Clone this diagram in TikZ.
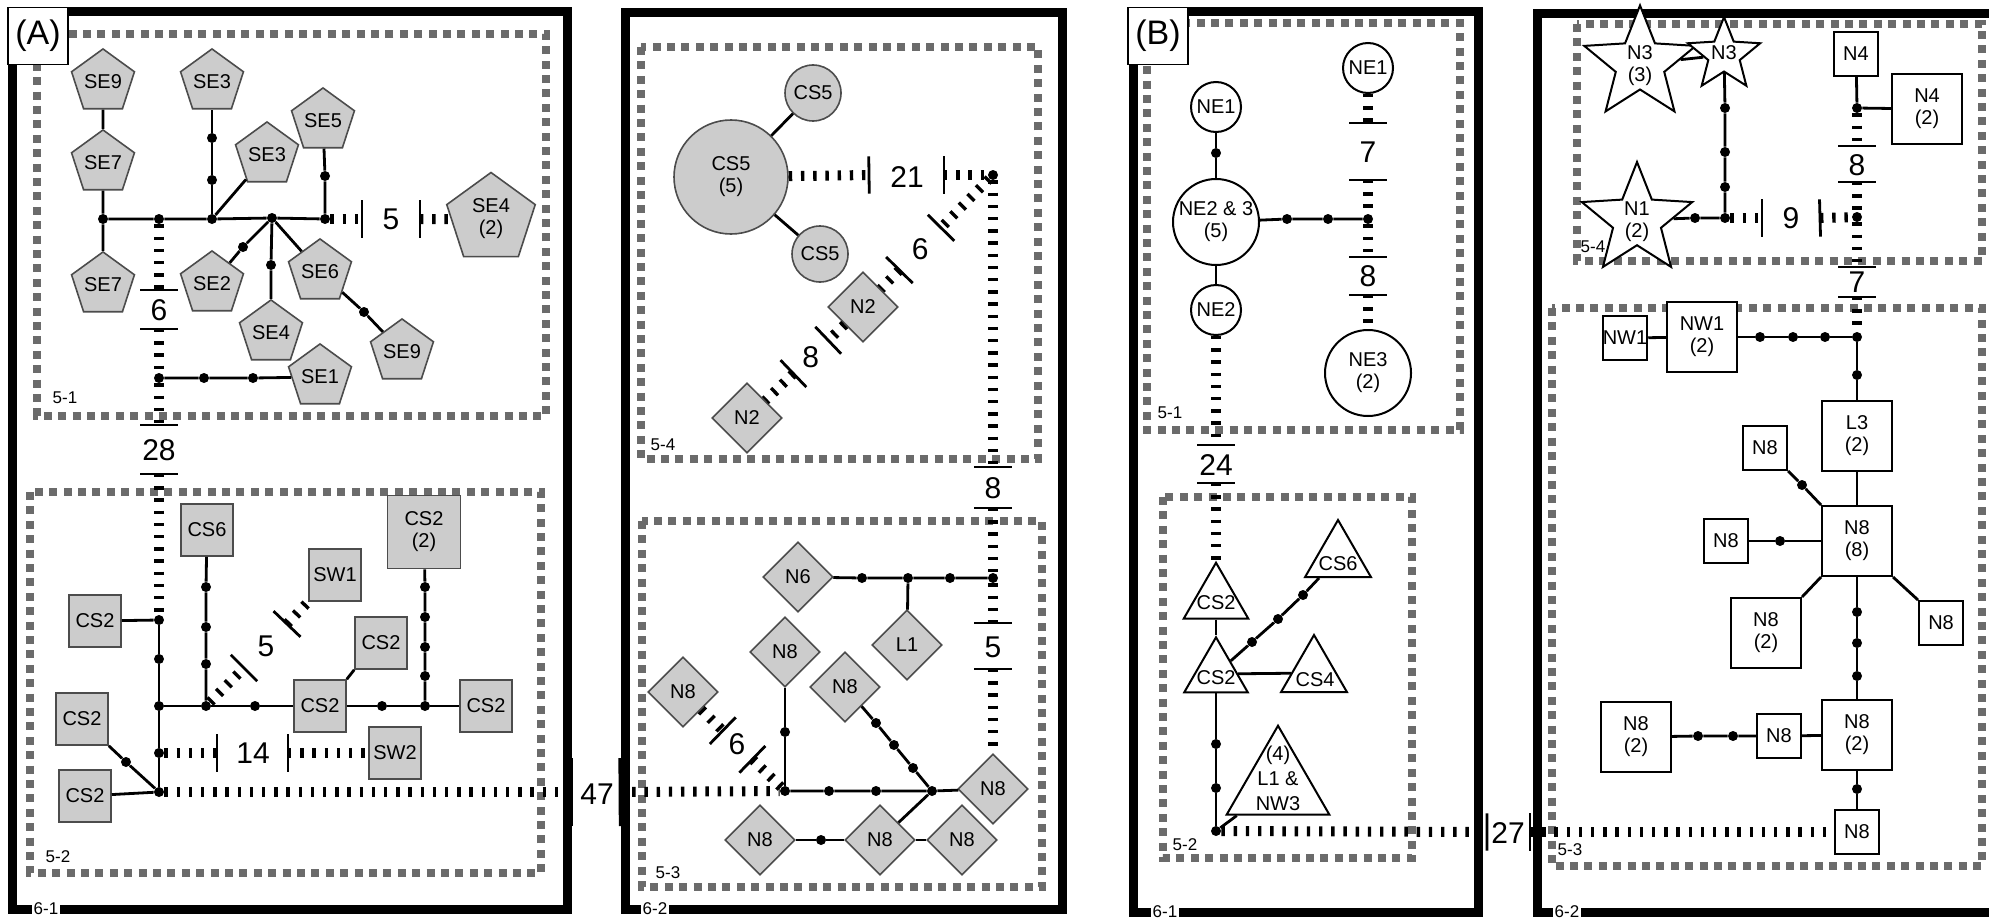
\documentclass[tikz,border=0pt]{standalone}
\usepackage{fontspec}
\setmainfont{Liberation Sans}
\usetikzlibrary{shapes.geometric,calc}
\newcommand{\mydist}[8][9.3pt]{%
  \coordinate (#2-a) at (#4);
  \coordinate (#2-b) at (#5);
  \draw[conn] (#3) -- (#2-a);
  \draw[conn] (#2-b) -- (#6);
  \draw[tickbar] ($(#2-a)!#1!90:(#3)$) -- ($(#2-a)!#1!-90:(#3)$);
  \draw[tickbar] ($(#2-b)!#1!90:(#6)$) -- ($(#2-b)!#1!-90:(#6)$);
  \node[dlabel] (#2-l) at (#8) {#7};
}
\begin{document}
\begin{tikzpicture}[x=0.5pt,y=-0.5pt,
  frame/.style={line width=4.5pt},
  region/.style={draw=black!58, line width=3.8pt, dash pattern=on 4pt off 3.2pt},
  link/.style={line width=1.4pt},
  conn/.style={line width=5pt, dash pattern=on 1.7pt off 4.4pt},
  tickbar/.style={line width=1.4pt},
  dot/.style={circle, fill=black, inner sep=0pt, minimum size=5pt},
  base/.style={inner sep=0pt, align=center, font=\fontsize{10}{11}\selectfont},
  gnode/.style={base, draw=black!70, fill=black!20, line width=0.8pt},
  wnode/.style={base, draw=black, fill=white, line width=1pt},
  pent/.style={gnode, regular polygon, regular polygon sides=5, minimum size=30pt},
  gsq/.style={gnode, rectangle, minimum size=26pt},
  dia/.style={gnode, diamond, minimum size=35pt},
  gcirc/.style={gnode, circle},
  wcirc/.style={wnode, circle},
  wsq/.style={wnode, rectangle, minimum size=22pt},
  tri/.style={wnode, regular polygon, regular polygon sides=3},
  wstar/.style={wnode, star, star points=5, star point ratio=2.3},
  dlabel/.style={font=\fontsize{15}{16}\selectfont, inner sep=0pt},
  rlabel/.style={font=\fontsize{8.5}{9}\selectfont, inner sep=0.5pt},
  flabel/.style={font=\fontsize{8.5}{9}\selectfont, fill=white, inner sep=1pt},
  panel/.style={draw=black, fill=white, line width=0.6pt, minimum width=30pt, minimum height=28.5pt, font=\fontsize{17}{18}\selectfont, inner sep=0pt}
]
\path[use as bounding box] (0,0) rectangle (1989,920);
\clip (0,0) rectangle (1989,920);

% ---------------- frames
\draw[frame] (12,12) rectangle (567,909);
\draw[frame] (625,13) rectangle (1062,909);
\draw[frame] (1133,12) rectangle (1478,912);
\draw[frame] (2010,14) -- (1537,14) -- (1537,912) -- (2010,912);

% ---------------- regions
\draw[region] (37,34) rectangle (546,416);
\draw[region] (30,492) rectangle (541,873);
\draw[region] (641,47) rectangle (1038,459);
\draw[region] (642,521) rectangle (1042,887);
\draw[region] (1147,23) rectangle (1460,430);
\draw[region] (1163,497) rectangle (1412,858);
\draw[region] (1577,24) rectangle (1982,261);
\draw[region] (1552,308) rectangle (1982,866);

% ================= Panel A, 5-1
\node[pent] (se9a) at (103,82) {SE9};
\node[pent] (se7a) at (103,163) {SE7};
\node[pent] (se7b) at (103,285) {SE7};
\node[pent] (se3a) at (212,82) {SE3};
\node[pent] (se3b) at (267,155) {SE3};
\node[pent] (se5) at (323,121) {SE5};
\node[pent, minimum size=46.5pt] (se4b) at (491,219) {SE4\\(2)};
\node[pent] (se2) at (212,284) {SE2};
\node[pent] (se4) at (271,333) {SE4};
\node[pent] (se6) at (320,272) {SE6};
\node[pent] (se9b) at (402,352) {SE9};
\node[pent] (se1) at (320,377) {SE1};

\node[dot] (j1) at (103,219) {};
\node[dot] (j2) at (159,219) {};
\node[dot] (j3) at (212,219) {};
\node[dot] (j4) at (272,218) {};
\node[dot] (j5) at (325,219) {};
\node[dot] (d1) at (212,138) {};
\node[dot] (d2) at (212,180) {};
\node[dot] (d3) at (243,247) {};
\node[dot] (d4) at (271,265) {};
\node[dot] (d5) at (325,176) {};
\node[dot] (d6) at (364,312) {};
\node[dot] (j6) at (159,378) {};
\node[dot] (d7) at (204,378) {};
\node[dot] (d8) at (253,378) {};

\draw[link] (se9a) -- (se7a);
\draw[link] (se7a) -- (j1) -- (se7b);
\draw[link] (j1) -- (j2) -- (j3) -- (j4) -- (j5);
\draw[link] (j3) -- (d2) -- (d1) -- (se3a);
\draw[link] (j3) -- (se3b);
\draw[link] (j4) -- (d3) -- (se2);
\draw[link] (j4) -- (d4) -- (se4);
\draw[link] (j4) -- (se6) -- (d6) -- (se9b);
\draw[link] (j5) -- (d5) -- (se5);
\draw[link] (j6) -- (d7) -- (d8) -- (se1);

\mydist{qs5}{j5}{362,219}{420,219}{se4b}{5}{391,219}
\mydist{qs6}{j2}{159,290}{159,329}{j6}{6}{159,310}

% ================= Panel A, 5-2
\node[gsq] (cs6) at (207,530) {CS6};
\node[gsq, minimum size=36.5pt] (cs2big) at (424,532) {CS2\\(2)};
\node[gsq] (sw1) at (335,575) {SW1};
\node[gsq] (cs2a) at (95,621) {CS2};
\node[gsq] (cs2b) at (381,643) {CS2};
\node[gsq] (cs2c) at (320,706) {CS2};
\node[gsq] (cs2d) at (486,706) {CS2};
\node[gsq] (cs2e) at (82,719) {CS2};
\node[gsq] (cs2f) at (85,796) {CS2};
\node[gsq] (sw2) at (395,753) {SW2};

\node[dot] (j7) at (159,620) {};
\node[dot] (d9) at (159,659) {};
\node[dot] (j8) at (159,706) {};
\node[dot] (j9) at (159,753) {};
\node[dot] (j10) at (159,792) {};
\node[dot] (j11) at (206,706) {};
\node[dot] (d10) at (255,706) {};
\node[dot] (d11) at (206,587) {};
\node[dot] (d12) at (206,627) {};
\node[dot] (d13) at (206,664) {};
\node[dot] (d14) at (382,706) {};
\node[dot] (j12) at (425,706) {};
\node[dot] (d15) at (425,587) {};
\node[dot] (d16) at (425,617) {};
\node[dot] (d17) at (425,647) {};
\node[dot] (d18) at (425,676) {};
\node[dot] (d19) at (126,762) {};

\draw[link] (cs2a) -- (j7);
\draw[link] (j7) -- (d9) -- (j8) -- (j9) -- (j10);
\draw[link] (j8) -- (j11) -- (d10) -- (cs2c);
\draw[link] (j11) -- (d13) -- (d12) -- (d11) -- (cs6);
\draw[link] (cs2c.north east) -- (cs2b.south west);
\draw[link] (cs2c) -- (d14) -- (j12) -- (cs2d);
\draw[link] (j12) -- (d18) -- (d17) -- (d16) -- (d15) -- (cs2big);
\draw[link] (cs2e.south east) -- (d19) -- (j10);
\draw[link] (cs2f) -- (j10);

\mydist{qs28}{j6}{159,425}{159,474}{j7}{28}{159,450}
\mydist{qa5}{j11}{244,668}{287,624}{sw1.south west}{5}{266,646}
\mydist{q14}{j9}{217,753}{288,753}{sw2}{14}{253,753}

% ================= Panel A, 5-4
\node[gcirc, minimum size=57pt] (cs5big) at (731,177) {CS5\\(5)};
\node[gcirc, minimum size=28pt] (cs5a) at (813,93) {CS5};
\node[gcirc, minimum size=28pt] (cs5b) at (820,254) {CS5};
\node[dia] (n2a) at (863,307) {N2};
\node[dia] (n2b) at (747,418) {N2};
\node[dot] (jc) at (993,175) {};
\draw[link] (cs5big) -- (cs5a);
\draw[link] (cs5big) -- (cs5b);
\mydist{q21}{cs5big}{869,175}{944,175}{jc}{21}{907,177}
\mydist{qd6}{jc}{$(jc)!0.4!(n2a)$}{$(jc)!0.72!(n2a)$}{n2a}{6}{$(jc)!0.56!(n2a)$}
\mydist{qd8}{n2a}{$(n2a)!0.3!(n2b)$}{$(n2a)!0.6!(n2b)$}{n2b}{8}{$(n2a)!0.45!(n2b)$}

% ================= Panel A, 5-3
\node[dia] (n6) at (798,577) {N6};
\node[dia] (l1) at (907,645) {L1};
\node[dia] (n8a) at (683,692) {N8};
\node[dia] (n8b) at (785,652) {N8};
\node[dia] (n8c) at (845,687) {N8};
\node[dia] (n8r) at (993,789) {N8};
\node[dia] (n8d) at (760,840) {N8};
\node[dia] (n8e) at (880,840) {N8};
\node[dia] (n8f) at (962,840) {N8};

\node[dot] (jd) at (993,578) {};
\node[dot] (d20) at (862,578) {};
\node[dot] (jl1) at (908,578) {};
\node[dot] (d21) at (950,578) {};
\node[dot] (jb) at (785,791) {};
\node[dot] (d22) at (785,732) {};
\node[dot] (d23) at (829,791) {};
\node[dot] (d24) at (876,791) {};
\node[dot] (jk) at (932,791) {};
\node[dot] (d25) at (876,723) {};
\node[dot] (d26) at (894,745) {};
\node[dot] (d27) at (913,768) {};
\node[dot] (d28) at (821,840) {};

\draw[link] (n6) -- (d20) -- (jl1) -- (d21) -- (jd);
\draw[link] (jl1) -- (l1);
\draw[link] (n8b) -- (d22) -- (jb);
\draw[link] (jb) -- (d23) -- (d24) -- (jk) -- (n8r);
\draw[link] (n8c) -- (d25) -- (d26) -- (d27) -- (jk);
\draw[link] (jk) -- (n8e);
\draw[link] (n8d) -- (d28) -- (n8e) -- (n8f);

\mydist{qv8}{jc}{993,467}{993,508}{jd}{8}{993,488}
\mydist{qv5}{jd}{993,623}{993,669}{n8r}{5}{993,647}
\mydist{qa6}{n8a}{$(n8a)!0.39!(jb)$}{$(n8a)!0.68!(jb)$}{jb}{6}{$(n8a)!0.53!(jb)$}
\mydist[17pt]{q47}{j10}{572,792}{620,792}{jb}{47}{597,794}

% ================= Panel B, 5-1
\node[wcirc, minimum size=25pt] (ne1a) at (1216,107) {NE1};
\node[wcirc, minimum size=43pt] (ne23) at (1216,222) {NE2 \& 3\\(5)};
\node[wcirc, minimum size=25pt] (ne2) at (1216,310) {NE2};
\node[wcirc, minimum size=25pt] (ne1b) at (1368,68) {NE1};
\node[wcirc, minimum size=43pt] (ne3) at (1368,373) {NE3\\(2)};
\node[dot] (d30) at (1216,153) {};
\node[dot] (d31) at (1287,219) {};
\node[dot] (d32) at (1328,219) {};
\node[dot] (je) at (1368,219) {};
\draw[link] (ne1a) -- (d30) -- (ne23);
\draw[link] (ne23) -- (ne2);
\draw[link] (ne23) -- (d31) -- (d32) -- (je);
\mydist{qb7}{ne1b}{1368,123}{1368,180}{je}{7}{1368,152}
\mydist{qb8}{je}{1368,257}{1368,295}{ne3}{8}{1368,276}

% ================= Panel B, 5-2
\node[tri, minimum size=37.3pt] (cs2u) at (1216,600) {};
\node[base] (cs2u-t) at (1216,603) {CS2};
\node[tri, minimum size=36.7pt] (cs2l) at (1216,674) {};
\node[base] (cs2l-t) at (1216,678) {CS2};
\node[tri, minimum size=38pt] (cs6t) at (1338,558) {};
\node[base] (cs6t-t) at (1338,564) {CS6};
\node[tri, minimum size=38pt] (cs4t) at (1314,673) {};
\node[base] (cs4t-t) at (1315,680) {CS4};
\node[tri, minimum size=59.3pt] (big) at (1278,785) {};
\node[base, font=\fontsize{10}{12.5}\selectfont] (big-t) at (1278,778) {(4)\\L1 \&\\NW3};

\node[dot] (jf) at (1216,831) {};
\node[dot] (d33) at (1216,744) {};
\node[dot] (d34) at (1216,788) {};
\node[dot] (d35) at (1252,642) {};
\node[dot] (d36) at (1278,619) {};
\node[dot] (d37) at (1303,595) {};
\draw[link] (cs2u) -- (cs2l);
\draw[link] (cs2l) -- (d35) -- (d36) -- (d37) -- (cs6t);
\draw[link] (cs2l) -- (cs4t);
\draw[link] (cs2l) -- (d33) -- (d34) -- (jf);
\draw[link] (jf) -- (big);
\mydist{qb24}{ne2}{1216,445}{1216,483}{cs2u}{24}{1216,465}

% ================= Panel B, 5-4 and 5-3
\node[wstar, minimum size=58.6pt] (n3big) at (1640,64) {};
\node[base] (n3big-t) at (1640,66) {N3\\(3)};
\node[wstar, minimum size=38pt] (n3s) at (1724,55) {};
\node[base] (n3s-t) at (1724,53) {N3};
\node[wstar, minimum size=58pt] (n1) at (1637,220) {};
\node[base] (n1-t) at (1637,222) {N1\\(2)};

\node[wsq] (n4) at (1856,54) {N4};
\node[wsq, minimum size=35pt] (n4b) at (1927,109) {N4\\(2)};
\node[wsq] (nw1) at (1625,338) {NW1};
\node[wsq, minimum size=35pt] (nw1b) at (1702,337) {NW1\\(2)};
\node[wsq, minimum size=35pt] (l3) at (1857,436) {L3\\(2)};
\node[wsq] (n8s1) at (1765,448) {N8};
\node[wsq, minimum size=35pt] (n8big) at (1857,541) {N8\\(8)};
\node[wsq] (n8l) at (1726,541) {N8};
\node[wsq, minimum size=35pt] (n8ll) at (1766,633) {N8\\(2)};
\node[wsq] (n8rr) at (1941,623) {N8};
\node[wsq, minimum size=35pt] (n8b2) at (1857,735) {N8\\(2)};
\node[wsq] (n8m) at (1779,736) {N8};
\node[wsq, minimum size=35pt] (n8fl) at (1636,737) {N8\\(2)};
\node[wsq] (n8bot) at (1857,832) {N8};

\node[dot] (d40) at (1725,108) {};
\node[dot] (d41) at (1725,152) {};
\node[dot] (d42) at (1725,187) {};
\node[dot] (jn) at (1725,218) {};
\node[dot] (d43) at (1695,218) {};
\node[dot] (jn4) at (1857,108) {};
\node[dot] (jn9) at (1857,217) {};
\node[dot] (jnw) at (1857,337) {};
\node[dot] (d44) at (1760,337) {};
\node[dot] (d45) at (1793,337) {};
\node[dot] (d46) at (1825,337) {};
\node[dot] (d47) at (1857,375) {};
\node[dot] (d48) at (1802,485) {};
\node[dot] (d49) at (1780,541) {};
\node[dot] (d50) at (1857,612) {};
\node[dot] (d51) at (1857,643) {};
\node[dot] (d52) at (1857,676) {};
\node[dot] (d53) at (1698,736) {};
\node[dot] (d54) at (1733,736) {};
\node[dot] (d55) at (1857,789) {};

\draw[link] (n3big) -- (n3s);
\draw[link] (n3s) -- (d40) -- (d41) -- (d42) -- (jn);
\draw[link] (n1) -- (d43) -- (jn);
\draw[link] (n4) -- (jn4) -- (n4b);
\draw[link] (nw1) -- (nw1b);
\draw[link] (nw1b) -- (d44) -- (d45) -- (d46) -- (jnw);
\draw[link] (jnw) -- (d47) -- (l3);
\draw[link] (l3) -- (n8big);
\draw[link] (n8s1.south east) -- (d48) -- (n8big.north west);
\draw[link] (n8l) -- (d49) -- (n8big);
\draw[link] (n8big.south west) -- (n8ll.north east);
\draw[link] (n8big.south east) -- (n8rr.north west);
\draw[link] (n8big) -- (d50) -- (d51) -- (d52) -- (n8b2);
\draw[link] (n8fl) -- (d53) -- (d54) -- (n8m) -- (n8b2);
\draw[link] (n8b2) -- (d55) -- (n8bot);

\mydist{qn9}{jn}{1762,218}{1820,218}{jn9}{9}{1791,218}
\mydist{qn8}{jn4}{1857,146}{1857,182}{jn9}{8}{1857,165}
\mydist{qn7}{jn9}{1857,267}{1857,297}{jnw}{7}{1857,282}
\mydist{q27}{jf}{1487,832}{1530,832}{n8bot}{27}{1508,833}

% ---------------- region and frame labels
\node[rlabel] (r51a) at (65,398) {5-1};
\node[rlabel] (r52a) at (58,857) {5-2};
\node[rlabel] (r54a) at (663,445) {5-4};
\node[rlabel] (r53a) at (668,873) {5-3};
\node[rlabel] (r51b) at (1170,413) {5-1};
\node[rlabel] (r52b) at (1185,845) {5-2};
\node[rlabel] (r54b) at (1593,247) {5-4};
\node[rlabel] (r53b) at (1570,850) {5-3};
\node[flabel] (f61a) at (46,909) {6-1};
\node[flabel] (f62a) at (655,909) {6-2};
\node[flabel] (f61b) at (1165,912) {6-1};
\node[flabel] (f62b) at (1567,912) {6-2};

\node[panel] (pA) at (38,36) {(A)};
\node[panel] (pB) at (1158,36) {(B)};
\end{tikzpicture}
\end{document}
